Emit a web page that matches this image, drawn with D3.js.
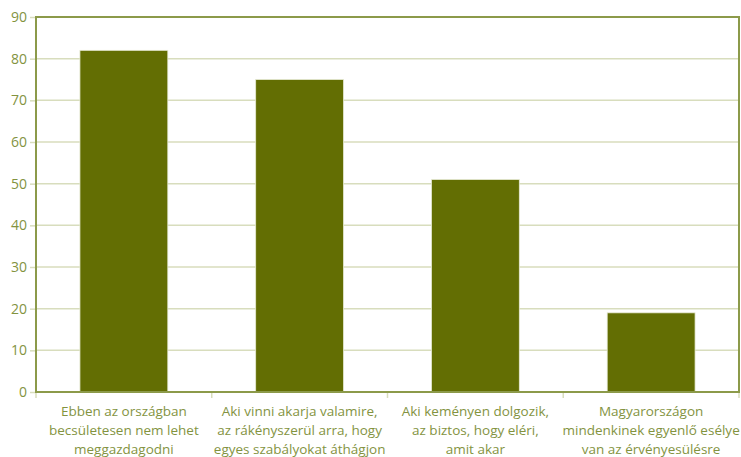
<!DOCTYPE html>
<html>
<head>
<meta charset="utf-8">
<script src="https://cdn.jsdelivr.net/npm/d3@7"></script>
<style>
  body{margin:0;background:#fff;}
  text{font-family:"Open Sans","Noto Sans",sans-serif;}
</style>
</head>
<body>
<svg id="chart" width="741" height="457"></svg>
<script>
// adatok
var categories=[
    ["Ebben az országban","becsületesen nem lehet","meggazdagodni"],
    ["Aki vinni akarja valamire,","az rákényszerül arra, hogy","egyes szabályokat áthágjon"],
    ["Aki keményen dolgozik,","az biztos, hogy eléri,","amit akar"],
    ["Magyarországon","mindenkinek egyenlő esélye","van az érvényesülésre"]
];
var values=[82,75,51,19];
var yTicks=[0,10,20,30,40,50,60,70,80,90];

var margin={left:36,right:2,top:17,bottom:65};
var W=741,H=457;
var svg=d3.select("#chart");
var w=W-margin.left-margin.right, h=H-margin.top-margin.bottom;
var g=svg.append("g").attr("transform","translate("+margin.left+","+margin.top+")");

var x=d3.scaleBand().domain(d3.range(values.length)).range([0,w]).paddingInner(0.5).paddingOuter(0.25);
var x0=d3.scaleBand().domain(d3.range(values.length)).range([0,w]);
var y=d3.scaleLinear().domain([0,90]).range([h,0]);

var textColor="#83933f", axisColor="#8c9a4a", gridColor="#d8ddbd";

// rács
g.selectAll(".grid").data(yTicks.slice(1,-1)).enter().append("line")
    .attr("x1",0).attr("x2",w)
    .attr("y1",function(d){return y(d);}).attr("y2",function(d){return y(d);})
    .attr("stroke",gridColor).attr("stroke-width",1.5);

// oszlopok
g.selectAll(".bar").data(values).enter().append("rect")
    .attr("x",function(d,i){return x(i);})
    .attr("width",x.bandwidth())
    .attr("y",function(d){return y(d);})
    .attr("height",function(d){return h-y(d);})
    .attr("fill","#636e03")
    .attr("stroke","#e8ebd6").attr("stroke-width",0.8);

// y tengely
var yAxis=g.append("g").call(d3.axisLeft(y).tickValues(yTicks).tickSize(6).tickPadding(3));
yAxis.select(".domain").remove();
yAxis.selectAll(".tick line").attr("stroke",gridColor).attr("stroke-width",1.5);
yAxis.selectAll("text").attr("fill",textColor).style("font-size","14px");

// x tengely osztások
g.selectAll(".xtick").data(d3.range(values.length+1)).enter().append("line")
    .attr("x1",function(d){return d*x0.bandwidth();}).attr("x2",function(d){return d*x0.bandwidth();})
    .attr("y1",h).attr("y2",h+6)
    .attr("stroke",gridColor).attr("stroke-width",1.5);

// keret
g.append("rect").attr("x",0).attr("y",0).attr("width",w).attr("height",h)
    .attr("fill","none").attr("stroke",axisColor).attr("stroke-width",2);

// kategória címkék
var lbl=g.selectAll(".lbl").data(categories).enter().append("text")
    .attr("text-anchor","middle")
    .attr("fill",textColor)
    .style("font-size","13.5px")
    .attr("transform",function(d,i){return "translate("+(x0(i)+x0.bandwidth()/2)+","+(h+24)+")";});
lbl.selectAll("tspan").data(function(d){return d;}).enter().append("tspan")
    .attr("x",0).attr("dy",function(d,i){return i?19:0;})
    .text(function(d){return d;});
</script>
</body>
</html>
